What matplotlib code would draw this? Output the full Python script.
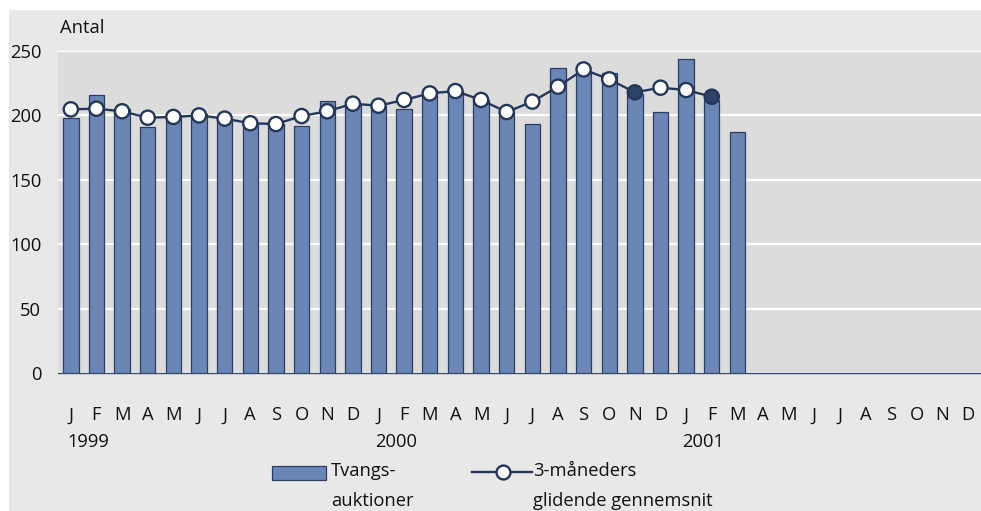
import matplotlib
matplotlib.use("Agg")
import matplotlib.pyplot as plt
from matplotlib.patches import Rectangle
from matplotlib.lines import Line2D
import numpy as np

plt.rcParams['font.family'] = ['Open Sans', 'DejaVu Sans']

months = ["J", "F", "M", "A", "M", "J", "J", "A", "S", "O", "N", "D"] * 3
years = ["1999", "2000", "2001"]
auctions = [198, 216, 205, 191, 200, 201, 197, 193, 193, 192, 211, 208,
            207, 205, 220, 219, 212, 203, 193, 237, 233, 233, 217, 203,
            244, 212, 187]
moving_avg = [204.7, 205.2, 203.2, 198.2, 198.8, 200.0, 197.5, 193.9, 193.3, 199.5, 203.2, 209.1,
              207.5, 212.0, 217.1, 218.9, 212.0, 202.6, 210.7, 222.3, 235.7, 228.0, 217.9, 221.5,
              219.7, 214.5]
highlight = [22, 25]
yticks = [0, 50, 100, 150, 200, 250]
bar_label = "Tvangs-\nauktioner"
line_label = "3-måneders\nglidende gennemsnit"

FS = 13.2
W, H = 981, 511
fig = plt.figure(figsize=(W / 100, H / 100), dpi=100)
fig.patch.set_facecolor("white")
fig.patches.append(Rectangle((9 / W, 0), 1 - 9 / W, 1 - 10 / H, transform=fig.transFigure,
                             facecolor="#e8e8e8", edgecolor="none", zorder=-10))

ax = fig.add_axes([58 / W, 1 - 373 / H, (W - 58) / W, (373 - 51) / H])
ax.set_facecolor("#dcdcdc")

bar_fc = "#6a86b6"
bar_ec = "#2d3d60"
line_c = "#24375a"

x_bar = np.arange(len(auctions))
ax.bar(x_bar, auctions, width=0.6, color=bar_fc, edgecolor=bar_ec, linewidth=0.9, zorder=3)
x_line = np.arange(len(moving_avg))
ax.plot(x_line, moving_avg, color=line_c, linewidth=1.7, zorder=4)
mfc = ["#2e4166" if i in highlight else "white" for i in x_line]
ax.scatter(x_line, moving_avg, s=105, facecolors=mfc, edgecolors=line_c, linewidths=1.7, zorder=5)

ax.set_xlim(-0.5, len(months) - 0.5)
ax.set_ylim(0, 250)
ax.set_yticks(yticks)
ax.set_yticklabels([str(v) for v in yticks], fontsize=FS, color="#111111")
ax.yaxis.grid(True, color="white", linewidth=1.6, zorder=1)
ax.set_axisbelow(True)
ax.tick_params(axis="y", length=0, pad=12)
ax.set_xticks(np.arange(len(months)))
ax.set_xticklabels(months, fontsize=FS, color="#111111")
ax.tick_params(axis="x", length=0, pad=24)
for s in ["top", "right", "left"]:
    ax.spines[s].set_visible(False)
ax.spines["bottom"].set_color("#3a4a6a")
ax.spines["bottom"].set_linewidth(1.0)

for k, yr in enumerate(years):
    ax.text(12 * k - 0.14, -0.215, yr, transform=ax.get_xaxis_transform(),
            ha="left", va="center", fontsize=FS, color="#111111")

fig.text(60 / W, 1 - 28 / H, "Antal", ha="left", va="center", fontsize=FS, color="#111111")

# legend
fig.patches.append(Rectangle((272 / W, 1 - 480 / H), 54 / W, 14 / H, transform=fig.transFigure,
                             facecolor=bar_fc, edgecolor=bar_ec, linewidth=0.9, zorder=3))
fig.text(331 / W, 1 - 486 / H, bar_label, ha="left", va="center", fontsize=FS,
         linespacing=1.85, color="#111111")
fig.lines.append(Line2D([472 / W, 532 / W], [1 - 472 / H, 1 - 472 / H], transform=fig.transFigure,
                        color=line_c, linewidth=1.7, marker=None, zorder=3))
fig.lines.append(Line2D([503 / W], [1 - 472 / H], transform=fig.transFigure, color=line_c,
                        marker="o", markersize=10, markerfacecolor="white",
                        markeredgewidth=1.7, zorder=4))
fig.text(533 / W, 1 - 486 / H, line_label, ha="left", va="center", fontsize=FS,
         linespacing=1.85, color="#111111")

fig.savefig("out.png", dpi=100, facecolor=fig.get_facecolor())
